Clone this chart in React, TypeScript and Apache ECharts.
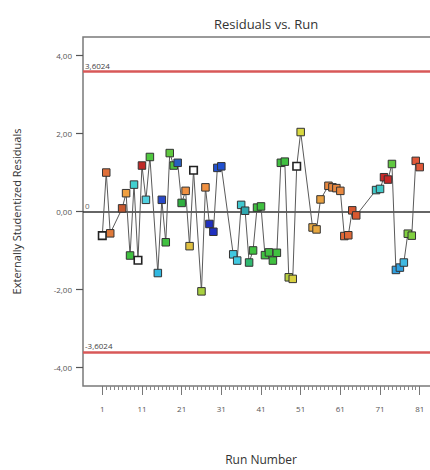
import React, { useEffect, useRef } from "react";
import * as echarts from "echarts";

const runs = [1, 2, 3, 6, 7, 8, 9, 10, 11, 12, 13, 15, 16, 17, 18, 19, 20, 21, 22, 23, 24, 26, 27, 28, 29, 30, 31, 34, 35, 36, 37, 38, 39, 40, 41, 42, 43, 44, 45, 46, 47, 48, 49, 50, 51, 54, 55, 56, 58, 59, 60, 61, 62, 63, 64, 65, 70, 71, 72, 73, 74, 75, 76, 77, 78, 79, 80, 81];
const residuals = [-0.62, 1.0, -0.56, 0.08, 0.47, -1.13, 0.69, -1.25, 1.18, 0.3, 1.4, -1.58, 0.3, -0.79, 1.5, 1.18, 1.25, 0.22, 0.53, -0.89, 1.06, -2.05, 0.62, -0.32, -0.52, 1.12, 1.16, -1.1, -1.26, 0.17, 0.02, -1.31, -1.0, 0.1, 0.13, -1.12, -1.05, -1.26, -1.06, 1.25, 1.28, -1.69, -1.73, 1.16, 2.04, -0.41, -0.46, 0.31, 0.66, 0.62, 0.6, 0.53, -0.63, -0.61, 0.03, -0.1, 0.55, 0.58, 0.88, 0.82, 1.22, -1.5, -1.44, -1.31, -0.57, -0.62, 1.3, 1.14];
const pointColors = ["#ffffff", "#e0703a", "#e07a3a", "#c85a30", "#f0a040", "#40c040", "#40d0d0", "#ffffff", "#c02828", "#50d0e0", "#50c840", "#30b8e0", "#2848c8", "#40c040", "#60c840", "#50c040", "#2860c0", "#30b040", "#f09040", "#e0c040", "#ffffff", "#a8d040", "#f09040", "#2030c0", "#2030c0", "#2050d0", "#2050d0", "#40c8e0", "#40c8e0", "#40c8d0", "#30a8b0", "#30b870", "#40c040", "#40c040", "#40c040", "#40c040", "#40c040", "#40c040", "#40c040", "#40c040", "#40c040", "#b8d040", "#d8d040", "#ffffff", "#d8d840", "#e8a840", "#e8a840", "#e8a040", "#e88840", "#e88840", "#e88840", "#e88840", "#e06838", "#e06838", "#d85830", "#d85830", "#40c8c8", "#40c8c8", "#c82828", "#c82828", "#60c840", "#30a0e0", "#30a0e0", "#40b8e0", "#80d040", "#80d040", "#e05838", "#e05838"];
const yTickValues = [-4, -2, 0, 2, 4];
const xTickValues = [1, 11, 21, 31, 41, 51, 61, 71, 81];
const runTickValues = Array.from({ length: 81 }, (_, i) => i + 1);
const limitValue = 3.6024;
const xMin = -3.86;
const xMax = 85.86;

const fmt = (v: number) => v.toFixed(2).replace(".", ",");
const FONT = "Open Sans";

export default function App() {
  const ref = useRef<HTMLDivElement>(null);
  useEffect(() => {
    if (!ref.current) return;
    const chart = echarts.init(ref.current, undefined, { renderer: "svg" });
    const data = runs.map((r, i) => ({
      value: [r, residuals[i]],
      itemStyle: {
        color: pointColors[i],
        borderColor: pointColors[i] === "#ffffff" ? "#222" : "#333",
        borderWidth: pointColors[i] === "#ffffff" ? 1.6 : 1,
      },
    }));
    const hLine = (v: number, text: string, color: string, width: number, labelColor: string) => [
      {
        coord: [xMin, v],
        lineStyle: { color, width, type: "solid" },
        label: { show: true, position: "insideStartTop", formatter: text, fontSize: 8, color: labelColor, distance: 2, fontFamily: FONT },
      },
      { coord: [xMax, v] },
    ];
    chart.setOption({
      animation: false,
      textStyle: { fontFamily: FONT },
      title: {
        text: "Residuals vs. Run",
        left: 261,
        textAlign: "center",
        top: 12,
        textStyle: { fontFamily: FONT, fontSize: 13, fontWeight: "normal", color: "#333" },
      },
      grid: {
        left: 83,
        top: 37,
        right: 6,
        bottom: 77,
        show: true,
        borderColor: "#7a7a7a",
        borderWidth: 1.5,
        backgroundColor: "#fff",
      },
      xAxis: [
        {
          type: "value",
          min: xMin,
          max: xMax,
          position: "bottom",
          axisLine: { show: false, onZero: false },
          splitLine: { show: false },
          axisTick: { show: true, customValues: runTickValues, length: 4, lineStyle: { color: "#888", width: 1 } },
          axisLabel: { show: false },
        },
        {
          type: "value",
          min: xMin,
          max: xMax,
          position: "bottom",
          axisLine: { show: false, onZero: false },
          splitLine: { show: false },
          axisTick: { show: true, customValues: xTickValues, length: 9, lineStyle: { color: "#777", width: 1 } },
          axisLabel: { show: true, customValues: xTickValues, fontSize: 8, color: "#555", margin: 18, fontFamily: FONT },
          name: "Run Number",
          nameLocation: "middle",
          nameGap: 67,
          nameTextStyle: { fontSize: 12, color: "#333", fontFamily: FONT },
        },
        {
          type: "value",
          min: 0,
          max: 1,
          show: false,
        },
      ],
      yAxis: {
        type: "value",
        min: -4.48,
        max: 4.48,
        position: "left",
        axisLine: { show: false, onZero: true, onZeroAxisIndex: 2 },
        splitLine: { show: false },
        axisTick: { show: true, customValues: yTickValues, length: 7, lineStyle: { color: "#555", width: 1.2 } },
        axisLabel: { show: true, customValues: yTickValues, formatter: (v: number) => fmt(v), fontSize: 8, color: "#555", margin: 11, fontFamily: FONT },
        name: "Externally Studentized Residuals",
        nameLocation: "middle",
        nameGap: 61,
        nameTextStyle: { fontSize: 11, color: "#333", fontFamily: FONT },
      },
      series: [
        {
          type: "line",
          xAxisIndex: 0,
          data,
          symbol: "rect",
          symbolSize: 7.5,
          lineStyle: { color: "#5a5a5a", width: 1 },
          z: 3,
          markLine: {
            silent: true,
            symbol: "none",
            z: 2,
            data: [
              hLine(limitValue, "3,6024", "#d85858", 2.5, "#444"),
              hLine(-limitValue, "-3,6024", "#d85858", 2.5, "#444"),
              hLine(0, "0", "#333", 1.6, "#666"),
            ],
          },
        },
      ],
    });
    return () => chart.dispose();
  }, []);
  return (
    <div style={{ position: "absolute", left: 0, top: 0, width: 430, height: 470, overflow: "hidden", background: "#fff" }}>
      <div ref={ref} style={{ width: 445, height: 470 }} />
    </div>
  );
}
